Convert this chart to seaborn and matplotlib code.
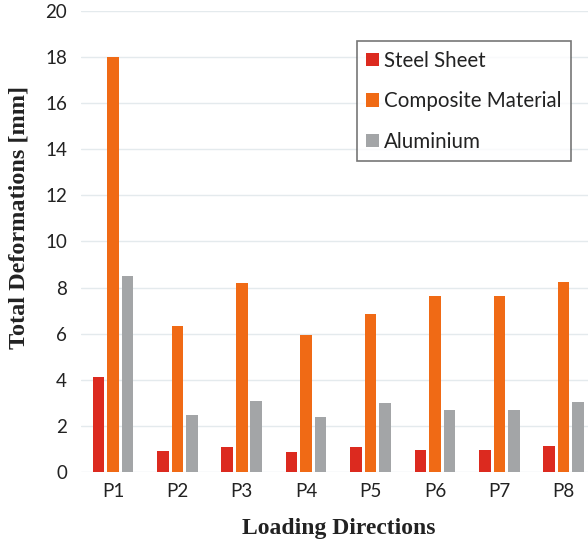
import matplotlib
matplotlib.use("Agg")
import matplotlib.pyplot as plt
import seaborn as sns
import pandas as pd

directions = ["P1", "P2", "P3", "P4", "P5", "P6", "P7", "P8"]
steel_sheet = [4.1, 0.92, 1.08, 0.86, 1.08, 0.96, 0.96, 1.13]
composite_material = [18.0, 6.35, 8.2, 5.96, 6.85, 7.62, 7.62, 8.26]
aluminium = [8.5, 2.47, 3.08, 2.39, 2.98, 2.69, 2.69, 3.04]
materials = ["Steel Sheet", "Composite Material", "Aluminium"]
colors = ["#dc2a1f", "#f06a15", "#a3a5a7"]

rows = []
for name, vals in zip(materials, [steel_sheet, composite_material, aluminium]):
    for d, v in zip(directions, vals):
        rows.append({"Direction": d, "Material": name, "Deformation": v})
df = pd.DataFrame(rows)

sns.set_theme(style="white")
plt.rcParams["font.family"] = ["Lato", "DejaVu Sans"]

fig = plt.figure(figsize=(5.88, 5.45), dpi=100)
ax = fig.add_axes([0.1374, 0.134, 0.876, 0.846])

sns.barplot(data=df, x="Direction", y="Deformation", hue="Material",
            order=directions, hue_order=materials, palette=colors,
            width=0.675, gap=0.2, saturation=1, errorbar=None,
            linewidth=0, ax=ax, zorder=3)

ax.set_xlim(-0.5, 7.5)
ax.set_ylim(0, 20)
ax.set_yticks(range(0, 21, 2))
ax.yaxis.grid(True, color="#e4eaed", linewidth=1.0, zorder=0)
ax.set_axisbelow(True)
for s in ax.spines.values():
    s.set_visible(False)

ax.tick_params(axis="both", length=0, labelsize=13.5, colors="#222222")
ax.tick_params(axis="y", pad=10)
ax.tick_params(axis="x", pad=8)

ax.set_xlabel("Loading Directions", family="Liberation Serif", fontweight="bold",
              fontsize=17, color="#222222", va="top")
ax.xaxis.set_label_coords(0.5, -0.100)
ax.set_ylabel("Total Deformations [mm]", family="Liberation Serif", fontweight="bold",
              fontsize=17.5, color="#222222")
ax.yaxis.set_label_coords(-0.100, 0.551)

leg = ax.legend(loc="upper left", bbox_to_anchor=(0.536, 0.934), frameon=True,
                fancybox=False, edgecolor="#555555", fontsize=14.8,
                handlelength=0.63, handleheight=0.63, handletextpad=0.25,
                labelspacing=1.0, borderpad=0.45, borderaxespad=0)
leg.get_frame().set_linewidth(1.2)
for t in leg.get_texts():
    t.set_color("#222222")

fig.savefig("out.png", dpi=100)
